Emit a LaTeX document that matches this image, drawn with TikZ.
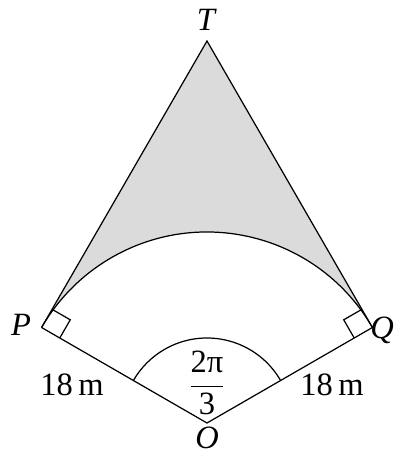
\documentclass[tikz,border=0pt]{standalone}
\usepackage{fontspec}
\setmainfont{Liberation Serif}
\usetikzlibrary{calc}
\tikzset{lbl/.style={font=\fontsize{18.5}{20}\selectfont},
         pt/.style={lbl, font=\fontsize{18.5}{20}\selectfont\itshape},
         capfill/.style={fill=black!14}}

\begin{document}
\begin{tikzpicture}[line width=0.7pt]
  \useasboundingbox (-4.14,-0.62) rectangle (3.78,8.46);

  % ---------- the points ----------
  \coordinate (O) at (0,0);
  \coordinate (P) at (150:3.82);
  \coordinate (Q) at (30:3.82);
  \coordinate (T) at (90:7.64);

  % ---------- shaded cap between the tangents and the arc ----------
  \fill[capfill] (P) -- (T) -- (Q) arc[start angle=30, end angle=150, radius=3.82] -- cycle;
  \draw (P) -- (T) -- (Q);
  \draw (Q) arc[start angle=30, end angle=150, radius=3.82];

  % ---------- the two radii ----------
  \draw (P) -- (O) -- (Q);
  \draw (P) ++(-30:0.42) -- ++(60:0.42) -- ++(150:0.42);     % right angle at P
  \draw (Q) ++(210:0.42) -- ++(120:0.42) -- ++(30:0.42);     % right angle at Q
  \draw ([shift={(30:1.7)}]O) arc[start angle=30, end angle=150, radius=1.7];

  % ---------- labels ----------
  \node[pt] (lT) at (-0.02,8.06) {T};
  \node[pt] (lP) at (-3.72,1.96) {P};
  \node[pt] (lQ) at (3.5,1.86) {Q};
  \node[pt] (lO) at (0,-0.3) {O};
  \node[lbl] (rl) at (-2.7,0.76) {18\,m};
  \node[lbl] (rr) at (2.5,0.76) {18\,m};
  \node[lbl] (ang) at (0,0.8) {$\displaystyle\frac{\mbox{2π}}{\mbox{3}}$};

\end{tikzpicture}
\end{document}
